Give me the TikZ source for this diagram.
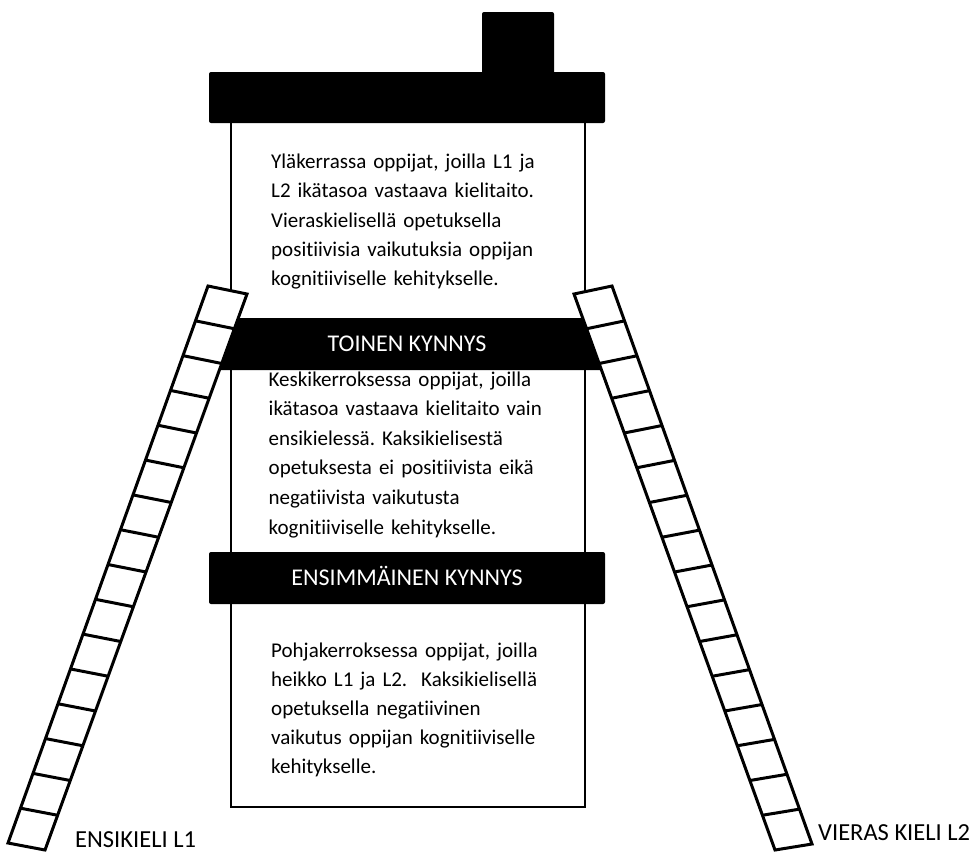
\documentclass[tikz,border=0pt]{standalone}
\usepackage{fontspec}
\setmainfont{Carlito}[Ligatures=NoCommon]
\frenchspacing
\usetikzlibrary{calc}
\begin{document}
\begin{tikzpicture}[x=1pt,y=-1pt,
  wall/.style={line width=2.5pt, line join=miter},
  slab/.style={fill=black, rounded corners=2pt},
  band/.style={fill=black, rounded corners=2pt, minimum width=396pt, minimum height=52pt,
    inner sep=0pt, text=white, text height=15.5pt, text depth=0pt,
    font=\fontsize{24}{28}\selectfont},
  bodytext/.style={anchor=base west, inner sep=0pt, text width=320pt, align=left},
  rail/.style={line width=3pt, line join=miter},
  sidelabel/.style={anchor=base west, inner sep=0pt, font=\fontsize{24.5}{28}\selectfont}]

\useasboundingbox (0,0) rectangle (974,852);

% house walls
\draw[wall] (231,110) -- (231,807) -- (585,807) -- (585,110);

% roof and chimney
\fill[slab] (209,72) rectangle (605,123);
\fill[slab] (482,12) rectangle (554,80);

% floor thresholds
\node[band] (second) at (407,344) {TOINEN KYNNYS};
\node[band] (first) at (407,578) {ENSIMMÄINEN KYNNYS};

% floor descriptions
\node[bodytext, font=\fontsize{21}{29.3}\selectfont] (upper) at (271,168.5)
  {Yläkerrassa oppijat, joilla L1 ja\\
   L2 ikätasoa vastaava kielitaito.\\
   Vieraskielisellä opetuksella\\
   positiivisia vaikutuksia oppijan\\
   kognitiiviselle kehitykselle.};
\node[bodytext, font=\fontsize{21}{29.6}\selectfont] (middle) at (268.5,386)
  {Keskikerroksessa oppijat, joilla\\
   ikätasoa vastaava kielitaito vain\\
   ensikielessä. Kaksikielisestä\\
   opetuksesta ei positiivista eikä\\
   negatiivista vaikutusta\\
   kognitiiviselle kehitykselle.};
\node[bodytext, font=\fontsize{21}{29}\selectfont] (lower) at (271,657)
  {Pohjakerroksessa oppijat, joilla\\
   heikko L1 ja L2.~ Kaksikielisellä\\
   opetuksella negatiivinen\\
   vaikutus oppijan kognitiiviselle\\
   kehitykselle.};

% left ladder
\coordinate (LTL) at (208,286);
\coordinate (LTR) at (247,294);
\coordinate (LBL) at (8,843);
\coordinate (LBR) at (45,850);
\filldraw[rail, fill=white] (LTL) -- (LTR) -- (LBR) -- (LBL) -- cycle;
\foreach \k in {1,...,15}
  \draw[rail] ($(LTL)!\k/16!(LBL)$) -- ($(LTR)!\k/16!(LBR)$);

% right ladder
\coordinate (RTL) at (574,294);
\coordinate (RTR) at (612,286);
\coordinate (RBL) at (775,850);
\coordinate (RBR) at (812,844);
\filldraw[rail, fill=white] (RTL) -- (RTR) -- (RBR) -- (RBL) -- cycle;
\foreach \k in {1,...,15}
  \draw[rail] ($(RTL)!\k/16!(RBL)$) -- ($(RTR)!\k/16!(RBR)$);

% ladder captions
\node[sidelabel] (l1) at (75,847) {ENSIKIELI L1};
\node[sidelabel] (l2) at (818,840) {VIERAS KIELI L2};
\end{tikzpicture}
\end{document}
